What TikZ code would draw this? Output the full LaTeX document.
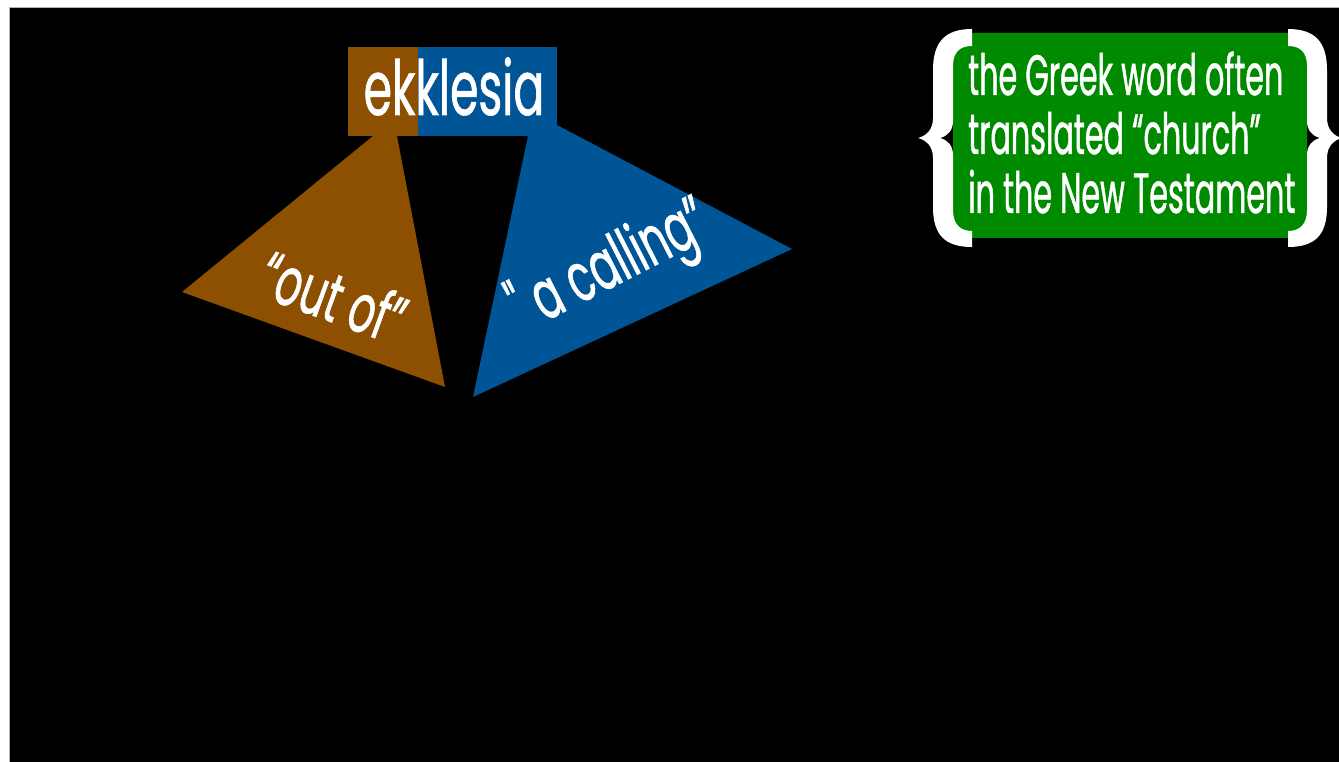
\documentclass[tikz,border=0pt]{standalone}
\usepackage{fontspec}
\newfontfamily\futc[FakeStretch=0.53, FakeBold=0.8]{Poppins}
\newfontfamily\futw[FakeStretch=0.6, FakeBold=0.8]{Poppins}
\definecolor{brownc}{RGB}{140,80,0}
\definecolor{bluec}{RGB}{0,85,150}
\definecolor{greenc}{RGB}{0,138,0}
\begin{document}
\begin{tikzpicture}[x=1pt,y=-1pt,
  lbl/.style={inner sep=0pt, text=white, font=\futw\fontsize{68}{68}\selectfont},
  big/.style={inner sep=0pt, anchor=base, text=white, font=\futw\fontsize{76}{76}\selectfont},
  gline/.style={inner sep=0pt, anchor=base west, text=white, font=\futc\fontsize{57}{57}\selectfont},
  bracefill/.style={fill=white}]
\useasboundingbox (0,0) rectangle (1339,762);
\fill[white] (0,0) rectangle (1339,762);
\fill[black] (10,8) rectangle (1339,762);
\draw[gray!60, line width=0.8] (9.5,762) -- (9.5,7.5) -- (1339,7.5);
% triangles
\fill[brownc] (373,136) -- (397,136) -- (445,387) -- (182,292) -- cycle;
\fill[bluec] (528,136) -- (557,125) -- (792,249) -- (473,397) -- cycle;
% word box
\fill[brownc] (348,47) rectangle (418,136);
\fill[bluec] (418,47) rectangle (557,136);
\node[big] (ekk) at (454,115) {ekklesia};
\node[lbl, rotate=-20] (outof) at (334,296) {“out of”};
\node[lbl, rotate=27] (calling) at (611,268) {" a calling”};
% green box
\fill[greenc, rounded corners=5pt] (953,33) rectangle (1307,238);
% braces
\fill[bracefill] (972,29) .. controls (945,29) and (933,42) .. (933,70) -- (933,118)
  .. controls (933,130) and (926,136) .. (918,138)
  .. controls (926,140) and (933,146) .. (933,158) -- (933,207)
  .. controls (933,235) and (945,247) .. (972,247) -- (972,231)
  .. controls (960,231) and (953,224) .. (953,210) -- (953,155)
  .. controls (953,146) and (948,140) .. (940,138)
  .. controls (948,136) and (953,130) .. (953,121) -- (953,66)
  .. controls (953,52) and (960,46) .. (972,46) -- cycle;
\begin{scope}[xshift=2260pt, xscale=-1]
\fill[bracefill] (972,29) .. controls (945,29) and (933,42) .. (933,70) -- (933,118)
  .. controls (933,130) and (926,136) .. (918,138)
  .. controls (926,140) and (933,146) .. (933,158) -- (933,207)
  .. controls (933,235) and (945,247) .. (972,247) -- (972,231)
  .. controls (960,231) and (953,224) .. (953,210) -- (953,155)
  .. controls (953,146) and (948,140) .. (940,138)
  .. controls (948,136) and (953,130) .. (953,121) -- (953,66)
  .. controls (953,52) and (960,46) .. (972,46) -- cycle;
\end{scope}
\node[gline] (gl1) at (968,95) {the Greek word often};
\node[gline] (gl2) at (968,154) {translated “church”};
\node[gline] (gl3) at (968,213) {in the New Testament};
\end{tikzpicture}
\end{document}
